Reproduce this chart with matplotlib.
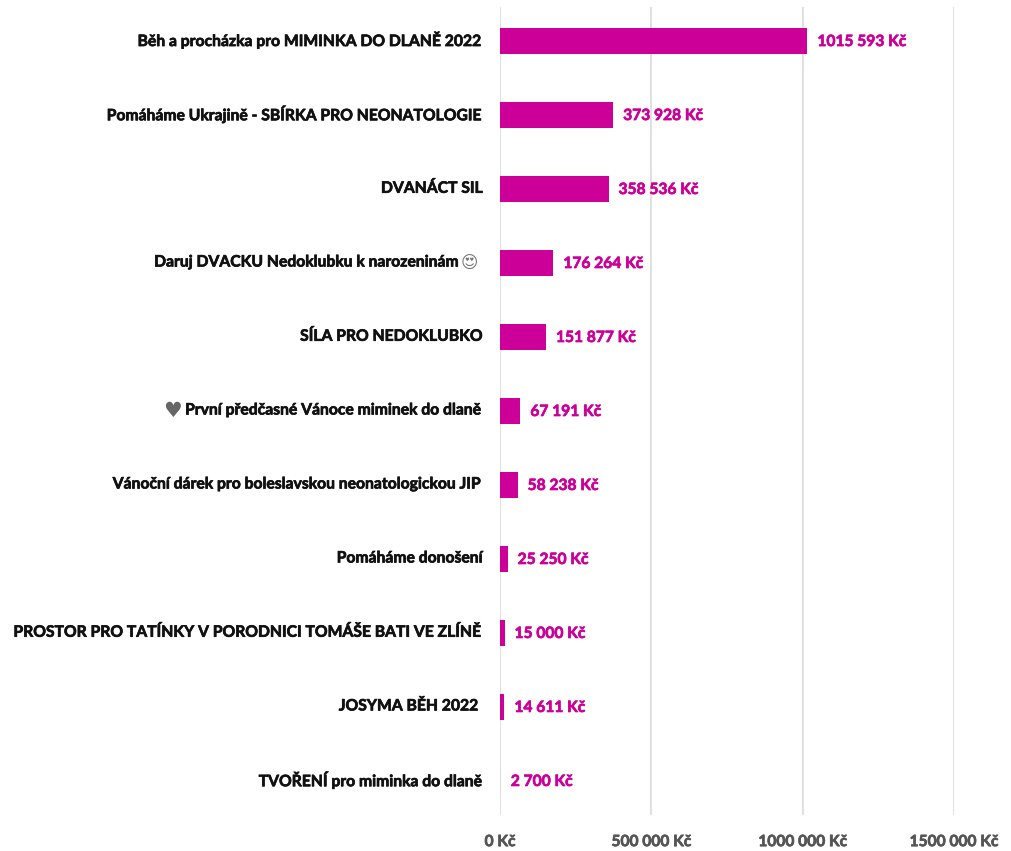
import matplotlib
matplotlib.use("Agg")
import matplotlib.pyplot as plt
import matplotlib.patheffects as pe
from matplotlib.transforms import Affine2D

plt.rcParams['font.family'] = ['Lato', 'DejaVu Sans']

# the two icons of row 3 and row 5 are drawn apart in grey
campaigns = [
    "Běh a procházka pro MIMINKA DO DLANĚ 2022",
    "Pomáháme Ukrajině - SBÍRKA PRO NEONATOLOGIE",
    "DVANÁCT SIL",
    "Daruj DVACKU Nedoklubku k narozeninám",
    "SÍLA PRO NEDOKLUBKO",
    "První předčasné Vánoce miminek do dlaně",
    "Vánoční dárek pro boleslavskou neonatologickou JIP",
    "Pomáháme donošení",
    "PROSTOR PRO TATÍNKY V PORODNICI TOMÁŠE BATI VE ZLÍNĚ",
    "JOSYMA BĚH 2022",
    "TVOŘENÍ pro miminka do dlaně",
]
amounts = [1015593, 373928, 358536, 176264, 151877, 67191, 58238, 25250, 15000, 14611, 2700]
ticks = [0, 500000, 1000000, 1500000]
tick_labels = ["0 Kč", "500 000 Kč", "1000 000 Kč", "1500 000 Kč"]
amount_labels = ["1015 593 Kč", "373 928 Kč", "358 536 Kč", "176 264 Kč", "151 877 Kč", "67 191 Kč",
                 "58 238 Kč", "25 250 Kč", "15 000 Kč", "14 611 Kč", "2 700 Kč"]

pink = "#cc0099"


def heavy(color):
    return [pe.withStroke(linewidth=0.5, foreground=color)]


fig = plt.figure(figsize=(10.11, 8.51), dpi=100)
ax = fig.add_axes([500 / 1011, 1 - 815 / 851, (954 - 500) / 1011, (815 - 7) / 851])

y = list(range(len(campaigns)))
bars = ax.barh(y, amounts, height=0.34, color=pink, zorder=3)
# smallest bar is under a pixel wide, the grid line hides it in the original
bars[-1].set_zorder(0)
ax.set_ylim(10.46, -0.46)
ax.set_xlim(0, 1500000)

for i, (v, lab) in enumerate(zip(amounts, amount_labels)):
    ax.annotate(lab, (v, i), xytext=(10, -1), textcoords="offset pixels",
                va="center", ha="left", color=pink, fontsize=11.2, fontweight="bold",
                path_effects=heavy(pink))

ax.set_yticks(y)
ax.set_yticklabels(campaigns, fontsize=11.3, fontweight="bold", color="#111111", va="center_baseline",
                   path_effects=heavy("#111111"))
ax.set_xticks(ticks)
ax.set_xticklabels(tick_labels, fontsize=11.2, fontweight="bold", color="#555555",
                   path_effects=heavy("#555555"))
ax.tick_params(axis="both", length=0)
ax.tick_params(axis="y", pad=12)
ax.tick_params(axis="x", pad=14.5)
ax.grid(axis="x", color="#e0e0e0", linewidth=1.4, zorder=1)
ax.set_axisbelow(False)
for s in ax.spines.values():
    s.set_visible(False)

# room for the face icon, and the JOSYMA label sits a little off the edge
y_ticks = ax.yaxis.get_major_ticks()
y_ticks[3].set_pad(28)
y_ticks[9].set_pad(15)
for t in y_ticks:
    t.label1.set_transform(t.label1.get_transform() + Affine2D().translate(0, 2))

labels = ax.get_yticklabels()
ax.annotate("\U0001F60D", xy=(0, 3), xytext=(-22, 0), textcoords="offset pixels",
            xycoords=ax.get_yaxis_transform(), ha="right", va="center",
            color="#777777", fontsize=12, annotation_clip=False)
ax.annotate("\u2665", xy=(0, 0.5), xytext=(-3, 0), textcoords="offset pixels", xycoords=labels[5],
            ha="right", va="center", color="#666666", fontsize=15, annotation_clip=False)

fig.savefig("out.png", dpi=100)
